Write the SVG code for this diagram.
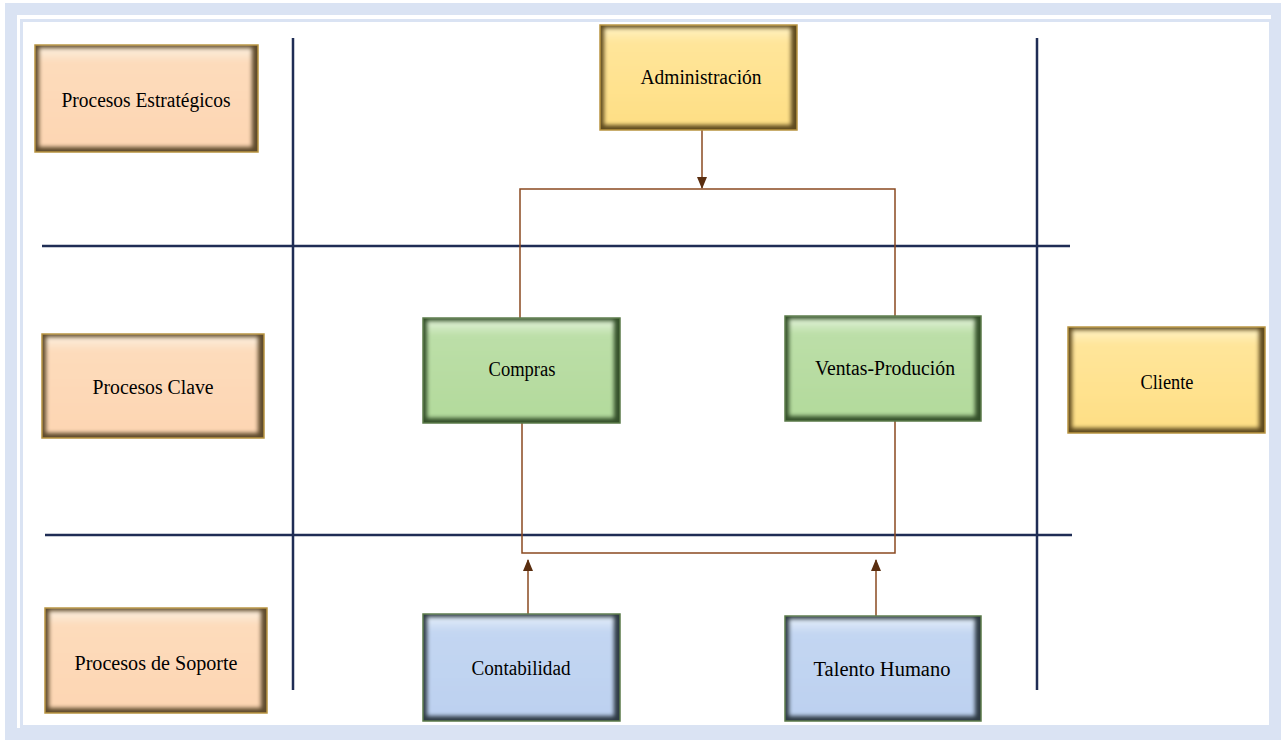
<svg xmlns="http://www.w3.org/2000/svg" width="1281" height="740" viewBox="0 0 1281 740">
  <defs>
    <style>
      .lbl { font-family: "Liberation Serif", "Times New Roman", serif; font-size: 20px; fill: #000; text-anchor: middle; dominant-baseline: central; }
      .lane { stroke: #1f2d55; stroke-width: 2.5; fill: none; }
      .conn { stroke: #8a4a20; stroke-width: 1.5; fill: none; }
      .frame { fill: none; stroke: #dae3f3; }
    </style>
    <filter id="soft" x="-10%" y="-10%" width="120%" height="120%">
      <feGaussianBlur stdDeviation="2.2"/>
    </filter>
    <linearGradient id="gPeach" x1="0" y1="0" x2="0" y2="1">
      <stop offset="0" stop-color="#fbeedd"/>
      <stop offset="0.15" stop-color="#fddbbb"/>
      <stop offset="1" stop-color="#fdd6b3"/>
    </linearGradient>
    <linearGradient id="gYellow" x1="0" y1="0" x2="0" y2="1">
      <stop offset="0" stop-color="#fff1c0"/>
      <stop offset="0.15" stop-color="#ffe59a"/>
      <stop offset="1" stop-color="#fedf85"/>
    </linearGradient>
    <linearGradient id="gGreen" x1="0" y1="0" x2="0" y2="1">
      <stop offset="0" stop-color="#e0f0d6"/>
      <stop offset="0.15" stop-color="#bcdfa8"/>
      <stop offset="1" stop-color="#b3da9c"/>
    </linearGradient>
    <linearGradient id="gBlue" x1="0" y1="0" x2="0" y2="1">
      <stop offset="0" stop-color="#e2ecf8"/>
      <stop offset="0.15" stop-color="#c3d6f2"/>
      <stop offset="1" stop-color="#bdd1f0"/>
    </linearGradient>
    <marker id="arr" viewBox="0 0 12 10" refX="11" refY="5" markerWidth="12" markerHeight="10" markerUnits="userSpaceOnUse" orient="auto">
      <path d="M0,0 L12,5 L0,10 z" fill="#5a2e10"/>
    </marker>
  </defs>

  <rect width="1281" height="740" fill="#ffffff"/>
  <!-- frame -->
  <rect class="frame" x="11" y="9" width="1266" height="725" stroke-width="12"/>
  <rect class="frame" x="21.5" y="20.5" width="1249" height="706" stroke-width="3"/>

  <!-- lanes -->
  <g id="lanes">
    <line class="lane" x1="293" y1="38" x2="293" y2="690"/>
    <line class="lane" x1="1037" y1="38" x2="1037" y2="690"/>
    <line class="lane" x1="42" y1="246" x2="1070" y2="246"/>
    <line class="lane" x1="45" y1="535" x2="1072" y2="535"/>
  </g>

  <!-- connectors -->
  <g id="connectors">
    <line class="conn" x1="702" y1="130" x2="702" y2="188" marker-end="url(#arr)"/>
    <polyline class="conn" points="520,318 520,189 895,189 895,316"/>
    <polyline class="conn" points="522,423 522,553 895,553 895,421"/>
    <line class="conn" x1="528" y1="614" x2="528" y2="560" marker-end="url(#arr)"/>
    <line class="conn" x1="876" y1="616" x2="876" y2="560" marker-end="url(#arr)"/>
  </g>

  <!-- nodes -->
  <g id="n-estrategicos">
    <rect x="35" y="45" width="223" height="107" fill="#5e4a2c" stroke="#b89440" stroke-width="1.5"/>
    <rect x="39" y="48" width="213" height="99" fill="url(#gPeach)" filter="url(#soft)"/>
    <text class="lbl" x="146" y="100" textLength="169" lengthAdjust="spacingAndGlyphs">Procesos Estratégicos</text>
  </g>
  <g id="n-clave">
    <rect x="42" y="334" width="222" height="104" fill="#5e4a2c" stroke="#b89440" stroke-width="1.5"/>
    <rect x="46" y="337" width="212" height="96" fill="url(#gPeach)" filter="url(#soft)"/>
    <text class="lbl" x="153" y="387" textLength="121" lengthAdjust="spacingAndGlyphs">Procesos Clave</text>
  </g>
  <g id="n-soporte">
    <rect x="45" y="608" width="222" height="105" fill="#5e4a2c" stroke="#b89440" stroke-width="1.5"/>
    <rect x="49" y="611" width="212" height="97" fill="url(#gPeach)" filter="url(#soft)"/>
    <text class="lbl" x="156" y="663" textLength="163" lengthAdjust="spacingAndGlyphs">Procesos de Soporte</text>
  </g>
  <g id="n-administracion">
    <rect x="600" y="25" width="197" height="105" fill="#5e4a1e" stroke="#b89440" stroke-width="1.5"/>
    <rect x="604" y="28" width="187" height="97" fill="url(#gYellow)" filter="url(#soft)"/>
    <text class="lbl" x="701" y="77" textLength="121" lengthAdjust="spacingAndGlyphs">Administración</text>
  </g>
  <g id="n-compras">
    <rect x="423" y="318" width="197" height="105" fill="#34502a" stroke="#5a7a48" stroke-width="1.5"/>
    <rect x="427" y="321" width="187" height="97" fill="url(#gGreen)" filter="url(#soft)"/>
    <text class="lbl" x="522" y="369" textLength="67" lengthAdjust="spacingAndGlyphs">Compras</text>
  </g>
  <g id="n-ventas">
    <rect x="785" y="316" width="196" height="105" fill="#34502a" stroke="#5a7a48" stroke-width="1.5"/>
    <rect x="789" y="319" width="186" height="97" fill="url(#gGreen)" filter="url(#soft)"/>
    <text class="lbl" x="885" y="368" textLength="140" lengthAdjust="spacingAndGlyphs">Ventas-Produción</text>
  </g>
  <g id="n-cliente">
    <rect x="1068" y="327" width="197" height="106" fill="#5e4a1e" stroke="#b89440" stroke-width="1.5"/>
    <rect x="1072" y="330" width="187" height="98" fill="url(#gYellow)" filter="url(#soft)"/>
    <text class="lbl" x="1167" y="382" textLength="53" lengthAdjust="spacingAndGlyphs">Cliente</text>
  </g>
  <g id="n-contabilidad">
    <rect x="423" y="614" width="197" height="107" fill="#2e3a44" stroke="#5a7a48" stroke-width="1.5"/>
    <rect x="427" y="617" width="187" height="99" fill="url(#gBlue)" filter="url(#soft)"/>
    <text class="lbl" x="521" y="668" textLength="99" lengthAdjust="spacingAndGlyphs">Contabilidad</text>
  </g>
  <g id="n-talento">
    <rect x="785" y="616" width="196" height="105" fill="#2e3a44" stroke="#5a7a48" stroke-width="1.5"/>
    <rect x="789" y="619" width="186" height="97" fill="url(#gBlue)" filter="url(#soft)"/>
    <text class="lbl" x="882" y="669" textLength="137" lengthAdjust="spacingAndGlyphs">Talento  Humano</text>
  </g>
</svg>
